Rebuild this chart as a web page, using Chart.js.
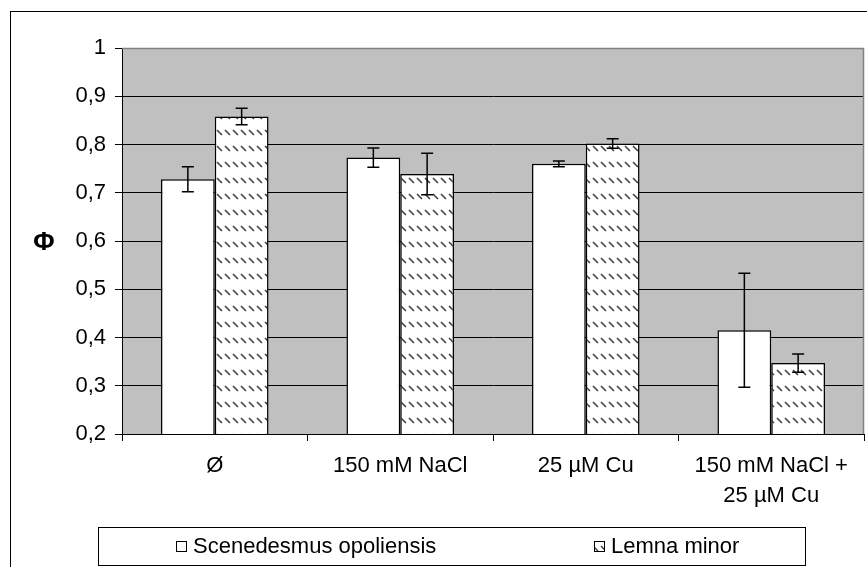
<!DOCTYPE html>
<html>
<head>
<meta charset="utf-8">
<script src="https://cdn.jsdelivr.net/npm/chart.js@4.4.1/dist/chart.umd.min.js"></script>
<style>
  body { margin: 0; background: #fff; }
  #wrap { width: 867px; height: 567px; }
</style>
</head>
<body>
<div id="wrap"><canvas id="chart" width="867" height="567"></canvas></div>
<script>
// categories on the x axis (last one wraps on two lines)
const categories = ["Ø", "150 mM NaCl", "25 µM Cu", ["150 mM NaCl +", "25 µM Cu"]];
// series names
const seriesNames = ["Scenedesmus opoliensis", "Lemna minor"];
// mean values
const scenedesmus = [0.728, 0.773, 0.760, 0.415];
const lemna = [0.858, 0.739, 0.802, 0.347];
// error bar half-lengths
const scenedesmusErr = [0.026, 0.020, 0.006, 0.118];
const lemnaErr = [0.017, 0.043, 0.010, 0.019];
// y axis
const yMin = 0.2;
const yMax = 1;
const yStep = 0.1;
const yTitle = "Φ";

const font = "'Liberation Sans', Arial, sans-serif";

//hatched fill used for Lemna minor
function makeHatch() {
  const c = document.createElement("canvas");
  c.width = 8;
  c.height = 16;
  const g = c.getContext("2d");
  g.fillStyle = "#ffffff";
  g.fillRect(0, 0, 8, 16);
  g.strokeStyle = "#3c3c3c";
  g.lineWidth = 1.5;
  g.beginPath();
  g.moveTo(1, 2);
  g.lineTo(6, 7);
  g.stroke();
  return g.createPattern(c, "repeat");
}
const hatch = makeHatch();

const errors = [scenedesmusErr, lemnaErr];

//background, frame, title and legend
const frame = {
  id: "frame",
  beforeDraw(chart) {
    const { ctx, chartArea: a } = chart;
    ctx.save();
    ctx.fillStyle = "#ffffff";
    ctx.fillRect(0, 0, chart.width, chart.height);
    ctx.fillStyle = "#c0c0c0";
    ctx.fillRect(a.left, a.top, a.right - a.left, a.bottom - a.top);
    ctx.restore();
  },
  afterDraw(chart) {
    const { ctx, chartArea: a } = chart;
    ctx.save();
    // plot area top / right edge
    ctx.strokeStyle = "#808080";
    ctx.lineWidth = 1.5;
    ctx.beginPath();
    ctx.moveTo(a.left, a.top + 0.5);
    ctx.lineTo(a.right - 0.5, a.top + 0.5);
    ctx.lineTo(a.right - 0.5, a.bottom);
    ctx.stroke();
    // outer border
    ctx.strokeStyle = "#000000";
    ctx.lineWidth = 1;
    ctx.strokeRect(10.5, 11.5, 880, 580);
    // y title, not rotated
    ctx.fillStyle = "#000000";
    ctx.font = "bold 26px " + font;
    ctx.textAlign = "center";
    ctx.textBaseline = "middle";
    ctx.fillText(yTitle, 44, (a.top + a.bottom) / 2 + 2);
    // legend
    ctx.strokeRect(98.5, 527.5, 707, 38);
    const itemX = [176, 594];
    ctx.font = "22px " + font;
    ctx.textAlign = "left";
    chart.data.datasets.forEach((ds, i) => {
      ctx.fillStyle = ds.backgroundColor;
      ctx.fillRect(itemX[i] + 0.5, 541.5, 10, 10);
      ctx.strokeStyle = "#000000";
      ctx.strokeRect(itemX[i] + 0.5, 541.5, 10, 10);
      ctx.fillStyle = "#000000";
      ctx.fillText(ds.label, itemX[i] + 17, 547);
    });
    ctx.restore();
  },
};

//error bars drawn through the y scale
const errorBars = {
  id: "errorBars",
  afterDatasetsDraw(chart) {
    const { ctx } = chart;
    const y = chart.scales.y;
    ctx.save();
    ctx.strokeStyle = "#000000";
    ctx.lineWidth = 1.5;
    chart.data.datasets.forEach((ds, i) => {
      const meta = chart.getDatasetMeta(i);
      meta.data.forEach((bar, j) => {
        const v = ds.data[j];
        const e = errors[i][j];
        const top = y.getPixelForValue(v + e);
        const bot = y.getPixelForValue(v - e);
        ctx.beginPath();
        ctx.moveTo(bar.x, top);
        ctx.lineTo(bar.x, bot);
        ctx.moveTo(bar.x - 6, top);
        ctx.lineTo(bar.x + 6, top);
        ctx.moveTo(bar.x - 6, bot);
        ctx.lineTo(bar.x + 6, bot);
        ctx.stroke();
      });
    });
    ctx.restore();
  },
};

new Chart(document.getElementById("chart"), {
  type: "bar",
  plugins: [frame, errorBars],
  data: {
    labels: categories,
    datasets: [
      {
        label: seriesNames[0],
        data: scenedesmus,
        backgroundColor: "#ffffff",
        borderColor: "#000000",
        borderWidth: 1.5,
        borderSkipped: false,
      },
      {
        label: seriesNames[1],
        data: lemna,
        backgroundColor: hatch,
        borderColor: "#000000",
        borderWidth: 1.5,
        borderSkipped: false,
      },
    ],
  },
  options: {
    responsive: false,
    animation: false,
    layout: { padding: { left: 0, top: 48, right: 3, bottom: 0 } },
    datasets: { bar: { categoryPercentage: 0.58, barPercentage: 1 } },
    plugins: {
      legend: { display: false },
      tooltip: { enabled: false },
    },
    scales: {
      x: {
        afterFit: (s) => { s.height = 133; },
        grid: {
          drawOnChartArea: false,
          drawTicks: true,
          tickLength: 7,
          color: "#000000",
          offset: true,
        },
        border: { color: "#000000", width: 1 },
        ticks: {
          color: "#000000",
          padding: 10,
          maxRotation: 0,
          autoSkip: false,
          font: { family: font, size: 22, lineHeight: 1.36 },
        },
      },
      y: {
        min: yMin,
        max: yMax,
        afterFit: (s) => { s.width = 122; },
        grid: {
          color: (c) => (c.tick && c.tick.value >= yMax - 1e-9 ? "#808080" : "#000000"),
          tickColor: "#000000",
          tickLength: 7,
          lineWidth: 1,
        },
        border: { color: "#000000", width: 1 },
        ticks: {
          stepSize: yStep,
          color: "#000000",
          padding: 9,
          font: { family: font, size: 22 },
          callback: (v) => String(Math.round(v * 10) / 10).replace(".", ","),
        },
      },
    },
  },
});
</script>
</body>
</html>
